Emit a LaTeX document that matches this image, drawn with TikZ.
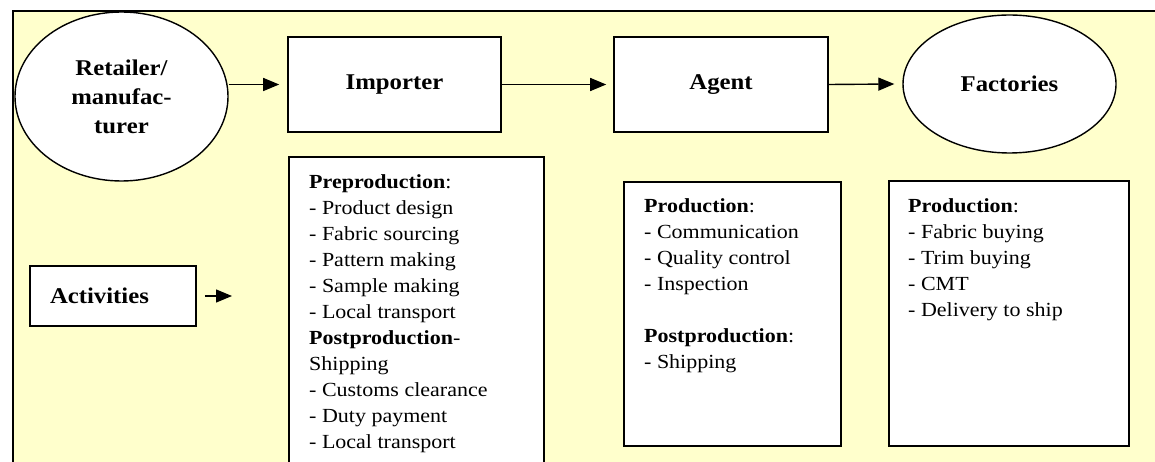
\documentclass[tikz,border=0pt]{standalone}
\usepackage{fontspec}
\setmainfont{Liberation Serif}[FakeStretch=1.1]
\usetikzlibrary{arrows.meta,shapes.geometric}
\definecolor{bgyellow}{HTML}{FFFFCC}
\begin{document}
\begin{tikzpicture}[x=1pt,y=-1pt,
  box/.style={draw, line width=1.6pt, fill=white, inner sep=0pt},
  oval/.style={ellipse, draw, line width=1.4pt, fill=white, inner sep=0pt},
  head/.style={font=\fontsize{22.5}{29}\selectfont\bfseries, align=center},
  body/.style={font=\fontsize{20}{26.07}\selectfont, align=left, inner sep=0pt, anchor=north west},
  arr/.style={line width=1.4pt, -{Triangle[length=16pt,width=13pt]}}]
\useasboundingbox (0,0) rectangle (1155,462);
\fill[bgyellow] (13,11) rectangle (1160,470);
\draw[line width=1.6pt] (13,470) -- (13,11) -- (1160,11);

\node[oval, head, minimum width=213pt, minimum height=169pt] (ret) at (121.5,96.5) {Retailer/\\manufac-\\turer};
\node[box, head, minimum width=213pt, minimum height=95pt] (imp) at (394.5,84.5) {Importer};
\node[box, head, minimum width=214pt, minimum height=95pt] (agt) at (721,84.5) {Agent};
\node[oval, head, minimum width=213pt, minimum height=138pt] (fac) at (1009.5,84) {Factories};

\node[box, head, minimum width=166pt, minimum height=60pt, text width=126pt, align=left] (act) at (113,296) {Activities};

\node[box, minimum width=255pt, minimum height=330pt, anchor=north west] (impa) at (288,156) {};
\node[body] (impat) at (309,174) {\textbf{Preproduction}:\\- Product design\\- Fabric sourcing\\- Pattern making\\- Sample making\\- Local transport\\\textbf{Postproduction}-\\Shipping\\- Customs clearance\\- Duty payment\\- Local transport};

\node[box, minimum width=217pt, minimum height=264pt, anchor=north west] (agta) at (623,181) {};
\node[body] (agtat) at (644,198) {\textbf{Production}:\\- Communication\\- Quality control\\- Inspection\\[26.07pt]\textbf{Postproduction}:\\- Shipping};

\node[box, minimum width=240pt, minimum height=265pt, anchor=north west] (faca) at (888,180) {};
\node[body] (facat) at (908,198) {\textbf{Production}:\\- Fabric buying\\- Trim buying\\- CMT\\- Delivery to ship};

\draw[arr] (ret.east |- imp.west) -- ([xshift=-8pt]imp.west);
\draw[arr] (imp.east) -- ([xshift=-7pt]agt.west);
\draw[arr] (agt.east) -- ([xshift=-8pt]fac.west);
\coordinate (actend) at (232,298);
\draw[arr] ([xshift=8pt]act.east) -- (actend |- act.east);
\end{tikzpicture}
\end{document}
